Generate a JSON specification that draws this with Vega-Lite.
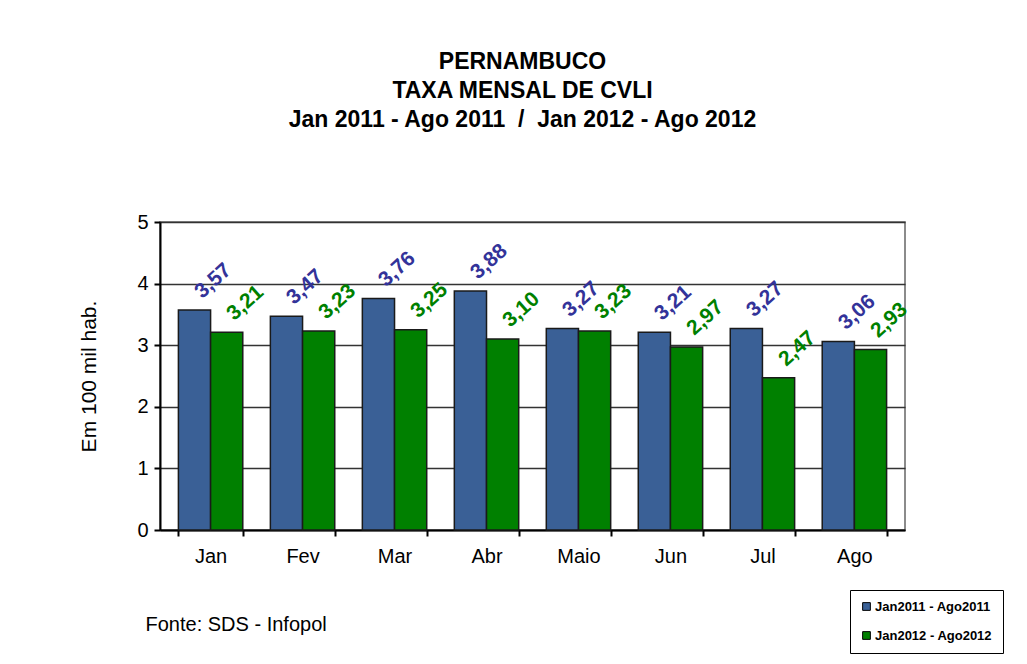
{
  "$schema": "https://vega.github.io/schema/vega-lite/v6.json",
  "autosize": {"type": "none"},
  "width": 745,
  "height": 308,
  "padding": {"left": 160, "top": 222, "right": 122, "bottom": 134},
  "background": "white",
  "config": {
    "font": "Liberation Sans",
    "locale": {"number": {"decimal": ",", "thousands": ".", "grouping": [3], "currency": ["R$", ""]}},
    "view": {"stroke": "#666666", "strokeWidth": 1.5}
  },
  "title": {
    "text": ["PERNAMBUCO", "TAXA MENSAL DE CVLI", "Jan 2011 - Ago 2011\u00a0\u00a0/\u00a0\u00a0Jan 2012 - Ago 2012"],
    "fontSize": 23,
    "fontWeight": "bold",
    "lineHeight": 29,
    "color": "black",
    "anchor": "middle",
    "dx": -10,
    "offset": 80
  },
  "data": {
    "values": [
      {"mes": "Jan", "periodo": "Jan2011 - Ago2011", "valor": 3.57},
      {"mes": "Jan", "periodo": "Jan2012 - Ago2012", "valor": 3.21},
      {"mes": "Fev", "periodo": "Jan2011 - Ago2011", "valor": 3.47},
      {"mes": "Fev", "periodo": "Jan2012 - Ago2012", "valor": 3.23},
      {"mes": "Mar", "periodo": "Jan2011 - Ago2011", "valor": 3.76},
      {"mes": "Mar", "periodo": "Jan2012 - Ago2012", "valor": 3.25},
      {"mes": "Abr", "periodo": "Jan2011 - Ago2011", "valor": 3.88},
      {"mes": "Abr", "periodo": "Jan2012 - Ago2012", "valor": 3.10},
      {"mes": "Maio", "periodo": "Jan2011 - Ago2011", "valor": 3.27},
      {"mes": "Maio", "periodo": "Jan2012 - Ago2012", "valor": 3.23},
      {"mes": "Jun", "periodo": "Jan2011 - Ago2011", "valor": 3.21},
      {"mes": "Jun", "periodo": "Jan2012 - Ago2012", "valor": 2.97},
      {"mes": "Jul", "periodo": "Jan2011 - Ago2011", "valor": 3.27},
      {"mes": "Jul", "periodo": "Jan2012 - Ago2012", "valor": 2.47},
      {"mes": "Ago", "periodo": "Jan2011 - Ago2011", "valor": 3.06},
      {"mes": "Ago", "periodo": "Jan2012 - Ago2012", "valor": 2.93}
    ]
  },
  "encoding": {
    "x": {
      "field": "mes",
      "type": "nominal",
      "sort": null,
      "scale": {"paddingInner": 0.3, "paddingOuter": 0.2},
      "axis": {
        "labelAngle": 0,
        "labelFontSize": 20,
        "labelColor": "black",
        "labelPadding": 10,
        "domainColor": "black",
        "domainWidth": 2,
        "tickColor": "black",
        "tickWidth": 2,
        "tickSize": 6,
        "tickBand": "extent",
        "title": "Fonte: SDS - Infopol",
        "titleFontSize": 20,
        "titleFontWeight": "normal",
        "titleColor": "black",
        "titleAnchor": "start",
        "titleAlign": "left",
        "titleX": -15,
        "titlePadding": 48
      }
    },
    "xOffset": {"field": "periodo", "type": "nominal"},
    "y": {
      "field": "valor",
      "type": "quantitative",
      "scale": {"domain": [0, 5]},
      "axis": {
        "values": [0, 1, 2, 3, 4, 5],
        "format": "d",
        "labelFontSize": 20,
        "labelColor": "black",
        "labelPadding": 6,
        "domainColor": "black",
        "domainWidth": 2,
        "tickColor": "black",
        "tickWidth": 2,
        "tickSize": 6,
        "gridColor": "#333333",
        "gridWidth": 1.5,
        "title": "Em 100 mil hab.",
        "titleFontSize": 21,
        "titleFontWeight": "normal",
        "titleColor": "black",
        "titlePadding": 37
      }
    }
  },
  "layer": [
    {
      "mark": {"type": "bar", "stroke": "#1a1a1a", "strokeWidth": 1.5},
      "encoding": {
        "color": {
          "field": "periodo",
          "type": "nominal",
          "scale": {"domain": ["Jan2011 - Ago2011", "Jan2012 - Ago2012"], "range": ["#3A6096", "#008000"]},
          "legend": {
            "orient": "none",
            "legendX": 690,
            "legendY": 368,
            "title": null,
            "direction": "vertical",
            "labelFontSize": 13,
            "labelFontWeight": "bold",
            "labelColor": "black",
            "symbolType": "square",
            "symbolSize": 60,
            "symbolStrokeColor": "black",
            "symbolStrokeWidth": 1,
            "rowPadding": 15,
            "padding": 10,
            "strokeColor": "black",
            "fillColor": "white",
            "labelOffset": 2
          }
        }
      }
    },
    {
      "mark": {"type": "text", "angle": -42, "align": "left", "baseline": "bottom", "fontSize": 21, "fontWeight": "bold", "dx": 13, "dy": 1},
      "encoding": {
        "text": {"field": "valor", "type": "quantitative", "format": ".2f"},
        "color": {
          "field": "periodo",
          "type": "nominal",
          "scale": {"domain": ["Jan2011 - Ago2011", "Jan2012 - Ago2012"], "range": ["#333399", "#008000"]},
          "legend": null
        }
      }
    }
  ],
  "resolve": {"scale": {"color": "independent"}}
}
